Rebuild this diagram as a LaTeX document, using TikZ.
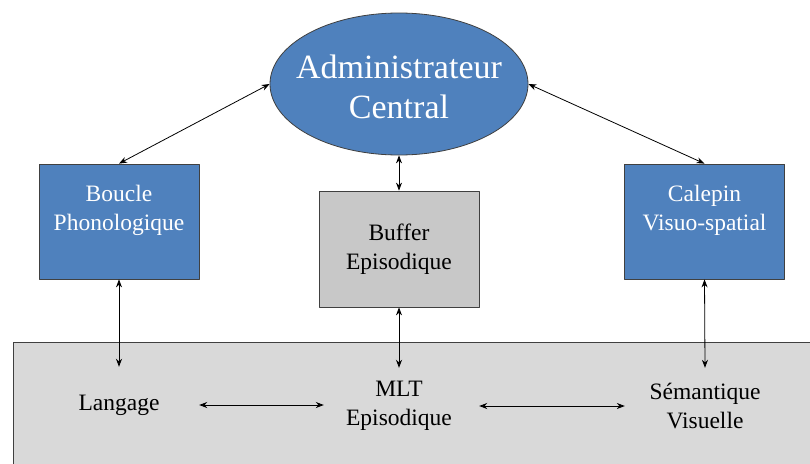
\documentclass[tikz,border=0pt]{standalone}
\usepackage{fontspec}
\setmainfont{Liberation Serif}
\usetikzlibrary{shapes.geometric,arrows.meta}
\definecolor{bleu}{RGB}{79,129,189}
\definecolor{grisbuf}{RGB}{200,200,200}
\definecolor{grisfond}{RGB}{217,217,217}
\begin{document}
\begin{tikzpicture}[x=1pt,y=-1pt,>={Stealth[length=8pt,width=6pt]},line join=round,
  txt/.style={align=center,font=\fontsize{23.5}{28.5}\selectfont},
  bloc/.style={draw=black!75,fill=bleu,line width=0.8pt,minimum width=160pt,minimum height=115pt,inner sep=0pt},
  bas/.style={txt,minimum width=160pt,minimum height=76pt,inner sep=0pt},
  fleche/.style={<->,line width=0.8pt}]
\clip (0,0) rectangle (810,463);
\fill[white] (0,0) rectangle (810,463);
% zone MLT
\draw[black!75,line width=0.8pt,fill=grisfond] (13,342) rectangle (830,490);
\node[ellipse,draw=black!75,line width=0.8pt,fill=bleu,minimum width=258pt,minimum height=142pt,inner sep=0pt,
  label={[align=center,text=white,yshift=-3pt,font=\fontsize{34}{40}\selectfont]center:Administrateur\\Central}] (admin) at (399,84) {};
\node[bloc,label={[txt,text=white,yshift=11pt]center:Boucle\\Phonologique}] (boucle) at (119,221.5) {};
\node[bloc,fill=grisbuf,minimum height=116pt,label={[txt]center:Buffer\\Episodique}] (buffer) at (399,249) {};
\node[bloc,label={[txt,text=white,yshift=11pt]center:Calepin\\Visuo-spatial}] (calepin) at (704.5,221.5) {};
\node[bas] (langage) at (119,405) {Langage};
\node[bas] (mlt) at (399,406) {MLT\\Episodique};
\node[bas] (sem) at (705,406) {Sémantique\\Visuelle};
\draw[fleche] (admin.west) -- (boucle.north);
\draw[fleche] (admin.east) -- (calepin.north);
\draw[fleche] (admin.south) -- (buffer.north);
\draw[fleche] (boucle.south) -- (langage.north);
\draw[fleche] (buffer.south) -- (mlt.north);
\draw[fleche] (calepin.south) -- (sem.north);
\draw[fleche] (langage.east) -- ([xshift=5pt]langage.east -| mlt.west);
\draw[fleche] (mlt.east) -- (mlt.east -| sem.west);
\end{tikzpicture}
\end{document}
